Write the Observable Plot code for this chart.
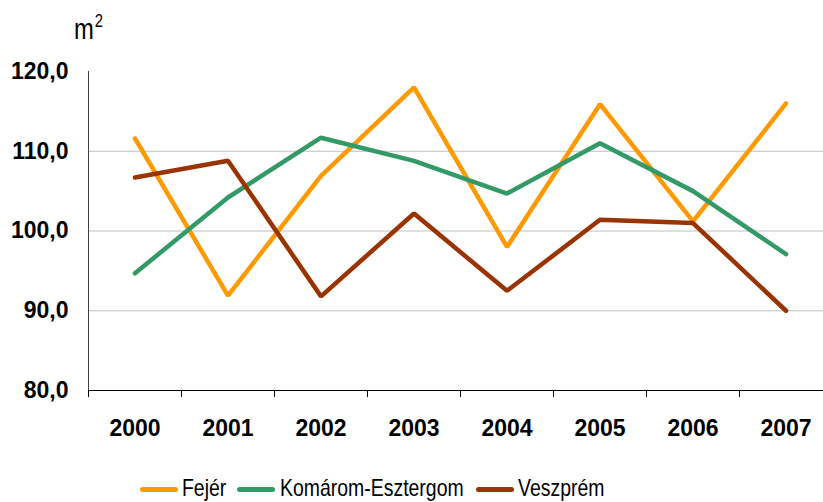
<!DOCTYPE html>
<html><head><meta charset="utf-8">
<script src="https://cdn.jsdelivr.net/npm/d3@7"></script>
<script src="https://cdn.jsdelivr.net/npm/@observablehq/plot@0.6"></script>
<style>
html,body{margin:0;padding:0;background:#fff;}
#wrap{position:relative;width:823px;height:502px;overflow:hidden;font-family:"Liberation Sans",Arial,sans-serif;}
#wrap svg{position:absolute;left:0;top:0;}
.abs{position:absolute;white-space:nowrap;color:#000;}
.sw{position:absolute;height:5px;width:38px;border-radius:3px;}
.lt{position:absolute;font-size:24px;line-height:24px;transform:scaleX(0.81);transform-origin:left top;white-space:nowrap;color:#000;}
</style>
</head><body>
<div id="wrap"></div>
<script>
const years = [2000, 2001, 2002, 2003, 2004, 2005, 2006, 2007];
const seriesNames = ["Fejér", "Komárom-Esztergom", "Veszprém"];
const fejer = [111.6, 91.9, 106.9, 118.0, 98.0, 115.9, 101.2, 116.0];
const komarom = [94.7, 104.2, 111.7, 108.8, 104.7, 111.0, 105.0, 97.1];
const veszprem = [106.7, 108.8, 91.8, 102.2, 92.5, 101.4, 101.0, 90.0];
const colors = ["#FF9900", "#339966", "#993300"];
const yTicks = [80, 90, 100, 110, 120];
const gridTicks = [90, 100, 110];
const unitLabel = "m";
const unitSup = "2";

const values = [fejer, komarom, veszprem];
const rows = [];
seriesNames.forEach((s, i) => years.forEach((y, j) => rows.push({series: s, year: y, value: values[i][j]})));
const bounds = years.map(y => y - 0.5).concat([years[years.length - 1] + 0.5]);

const fmt = d => d.toFixed(1).replace(".", ",");

const chart = Plot.plot({
  width: 823,
  height: 502,
  marginTop: 71,
  marginBottom: 112,
  marginLeft: 88,
  marginRight: 0,
  style: {fontFamily: "'Liberation Sans', Arial, sans-serif", color: "#000", background: "transparent"},
  x: {type: "linear", domain: [bounds[0], bounds[bounds.length - 1]], range: [88, 832]},
  y: {domain: [80, 120]},
  color: {domain: seriesNames, range: colors},
  marks: [
    Plot.ruleY(gridTicks, {stroke: "#c0c0c0", strokeWidth: 1}),
    Plot.ruleX([bounds[0]], {y1: 80, y2: 120, stroke: "#404040", strokeWidth: 1}),
    Plot.ruleY([80], {stroke: "#000", strokeWidth: 1}),
    Plot.axisY({ticks: yTicks, tickSize: 8, tickPadding: 12, tickFormat: fmt, label: null,
      fontSize: 23, fontWeight: "bold", stroke: null}),
    Plot.axisX({ticks: bounds, tickSize: 7, tickFormat: () => "", label: null}),
    Plot.axisX({ticks: years, tickSize: 0, tickPadding: 29, tickFormat: d => String(d), label: null,
      fontSize: 23, fontWeight: "bold"}),
    Plot.line(rows, {x: "year", y: "value", z: "series", stroke: "series", strokeWidth: 4.5,
      strokeLinecap: "round", strokeLinejoin: "miter"})
  ]
});
const wrap = document.getElementById("wrap");
wrap.appendChild(chart);

// unit label
const u = document.createElement("div");
u.className = "abs";
u.style.left = "74px"; u.style.top = "12px";
u.innerHTML = `<span style="font-size:29px;display:inline-block;transform:scaleX(0.82);transform-origin:left top;">${unitLabel}<sup style="font-size:18px;position:relative;top:-1px;margin-left:1px;">${unitSup}</sup></span>`;
wrap.appendChild(u);

// legend
const swLeft = [140, 237, 476];
const txLeft = [182, 280, 518];
seriesNames.forEach((s, i) => {
  const sw = document.createElement("div");
  sw.className = "sw";
  sw.style.left = swLeft[i] + "px"; sw.style.top = "487px"; sw.style.background = colors[i];
  wrap.appendChild(sw);
  const t = document.createElement("div");
  t.className = "lt";
  t.style.left = txLeft[i] + "px"; t.style.top = "476px";
  t.textContent = s;
  wrap.appendChild(t);
});
</script>
</body></html>
